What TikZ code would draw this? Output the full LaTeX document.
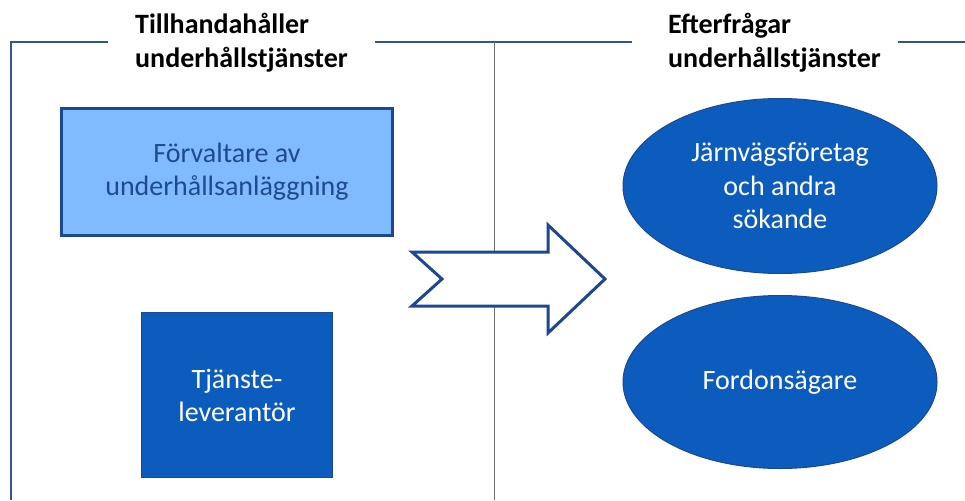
\documentclass[tikz,border=0pt]{standalone}
\usepackage{fontspec}
\setmainfont{Carlito}
\usetikzlibrary{shapes.geometric}
\definecolor{frameblue}{RGB}{47,85,151}
\definecolor{darkblue}{RGB}{28,72,145}
\definecolor{midblue}{RGB}{12,92,190}
\definecolor{lightblue}{RGB}{128,187,255}
\definecolor{textblue}{RGB}{30,75,140}
\definecolor{midgray}{RGB}{110,110,110}
\tikzset{
  heading/.style={font=\fontsize{28}{34}\selectfont\bfseries, align=left, text=black, inner sep=0pt},
  lightbox/.style={draw=darkblue, line width=3pt, fill=lightblue, text=textblue, align=center,
    font=\fontsize{28}{33}\selectfont},
  darkbox/.style={draw=darkblue, line width=1.2pt, fill=midblue, text=white, align=center,
    font=\fontsize{28}{33}\selectfont},
  actor/.style={ellipse, draw=darkblue, line width=1pt, fill=midblue, text=white, align=center,
    font=\fontsize{28}{33.5}\selectfont, inner sep=0pt},
}
\begin{document}
\begin{tikzpicture}[x=1pt, y=-1pt]
\useasboundingbox (0,0) rectangle (965,500);
% frame around the two halves
\draw[frameblue, line width=2.4pt] (11,500) -- (11,42) -- (108,42);
\draw[frameblue, line width=2.4pt] (375,42) -- (632,42);
\draw[frameblue, line width=2.4pt] (898,42) -- (965,42);
% divider
\draw[midgray, line width=1pt] (494,42) -- (494,500);
% headings
\node[heading, anchor=west] (lefthead) at (135,43) {Tillhandahåller\\underhållstjänster};
\node[heading, anchor=west] (righthead) at (668,43) {Efterfrågar\\underhållstjänster};
% left side boxes
\node[lightbox, minimum width=331pt, minimum height=127pt] (manager) at (227,172)
  {Förvaltare av\\underhållsanläggning};
\node[darkbox, minimum width=191pt, minimum height=165pt] (provider) at (237,395)
  {Tjänste-\\leverantör};
% right side ellipses
\node[actor, minimum width=314pt, minimum height=175pt] (operators) at (780,186)
  {Järnvägsföretag\\och andra\\sökande};
\node[actor, minimum width=314pt, minimum height=173pt] (owners) at (780,382)
  {Fordonsägare};
% notched arrow from supply to demand
\draw[darkblue, line width=3pt, fill=white, line join=miter]
  (412,252) -- (548,252) -- (548,225) -- (605,279) -- (548,333) -- (548,306)
  -- (412,306) -- (442,279) -- cycle;
\end{tikzpicture}
\end{document}
